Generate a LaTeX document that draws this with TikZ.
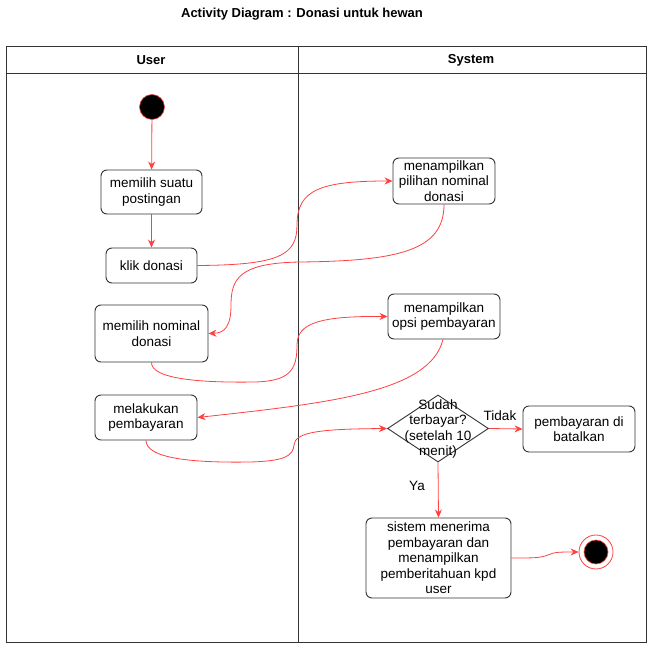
\documentclass[tikz,border=0pt]{standalone}
\usepackage{fontspec}
\setmainfont{Liberation Sans}
\usetikzlibrary{arrows.meta,shapes.geometric}
\definecolor{flow}{RGB}{255,64,64}
\definecolor{edge}{RGB}{51,51,51}
\begin{document}
\begin{tikzpicture}[x=1pt,y=-1pt,
  act/.style={draw=edge,line width=0.9pt,rounded corners=6pt,fill=white,align=center,inner sep=0pt,
    font=\fontsize{13.5}{15.5}\selectfont},
  flowline/.style={draw=flow,line width=0.8pt,-{Stealth[length=8pt,width=7pt]}},
  lbl/.style={font=\fontsize{13.5}{15.5}\selectfont,inner sep=0pt},
  hdr/.style={font=\fontsize{13}{15}\selectfont\bfseries,inner sep=0pt}]
\useasboundingbox (0,0) rectangle (657,652);
% title
\node[hdr] (title) at (302,14) {Activity Diagram : Donasi untuk hewan};
% frame
\draw[edge,line width=0.9pt] (6,46) rectangle (646,642);
\draw[edge,line width=0.9pt] (6,73) -- (646,73);
\draw[edge,line width=0.9pt] (298,46) -- (298,642);
\node[hdr] (user) at (151,60) {User};
\node[hdr] (system) at (471,60) {System};
% nodes
\node[circle,fill=black,draw=flow,line width=0.6pt,minimum size=25pt,inner sep=0pt] (start) at (152,107) {};
\node[act,minimum width=101pt,minimum height=44pt] (b1) at (151.5,192) {memilih suatu\\postingan};
\node[act,minimum width=91pt,minimum height=35pt] (b2) at (151.5,265.5) {klik donasi};
\node[act,minimum width=102pt,minimum height=46pt] (b3) at (444,181) {menampilkan\\pilihan nominal\\donasi};
\node[act,minimum width=113pt,minimum height=57pt] (b4) at (151.5,333.5) {memilih nominal\\donasi};
\node[act,minimum width=112pt,minimum height=45pt] (b5) at (444,316.5) {menampilkan\\opsi pembayaran};
\node[act,minimum width=102pt,minimum height=45pt] (b6) at (146,417.5) {melakukan\\pembayaran};
\node[diamond,draw=edge,line width=0.9pt,fill=white,minimum width=101pt,minimum height=67pt,inner sep=0pt] (d) at (438,428.5) {};
\node[lbl,align=center] (dtext) at (438,429) {Sudah\\terbayar?\\(setelah 10\\menit)};
\node[act,minimum width=112pt,minimum height=46pt] (b7) at (579,429) {pembayaran di\\batalkan};
\node[act,minimum width=145pt,minimum height=80pt] (b8) at (438.5,558) {sistem menerima\\pembayaran dan\\menampilkan\\pemberitahuan kpd\\user};
\node[circle,draw=flow,line width=0.8pt,fill=white,minimum size=34pt,inner sep=0pt] (endo) at (596,552) {};
\node[circle,fill=black,draw=flow,line width=0.6pt,minimum size=24pt,inner sep=0pt] (endi) at (596,552) {};
% edge labels
\node[lbl] (tidak) at (500,416) {Tidak};
\node[lbl] (ya) at (417,486) {Ya};
% connectors
\draw[flowline] (start) -- (b1);
\draw[flowline] (b1) -- (b2);
\draw[flowline] (b2.east) .. controls (280,265) and (297,255) .. (297,225)
  .. controls (297,190) and (320,181) .. (b3.west);
\draw[flowline] (b3.south) .. controls (444,250) and (400,261) .. (300,262)
  .. controls (240,263) and (231,278) .. (231,305)
  .. controls (231,326) and (225,333) .. (b4.east);
\draw[flowline] (b4.south) .. controls (151,378) and (195,383) .. (255,382)
  .. controls (290,381) and (297,370) .. (297,345)
  .. controls (297,323) and (320,316) .. (b5.west);
\draw[flowline] (b5.south -| 443,339) .. controls (430,392) and (330,403) .. (b6.east);
\draw[flowline] (b6.south) .. controls (146,458) and (190,463) .. (250,462)
  .. controls (285,461) and (293,456) .. (294,445)
  .. controls (295,432) and (320,429) .. (d.west);
\draw[flowline] (d.east) -- (b7.west);
\draw[flowline] (d.south) -- (b8.north);
\draw[flowline] (b8.east |- 511,558) .. controls (535,558) and (540,558) .. (548,555)
  .. controls (554,552) and (560,552) .. (endo.west);
\end{tikzpicture}
\end{document}
